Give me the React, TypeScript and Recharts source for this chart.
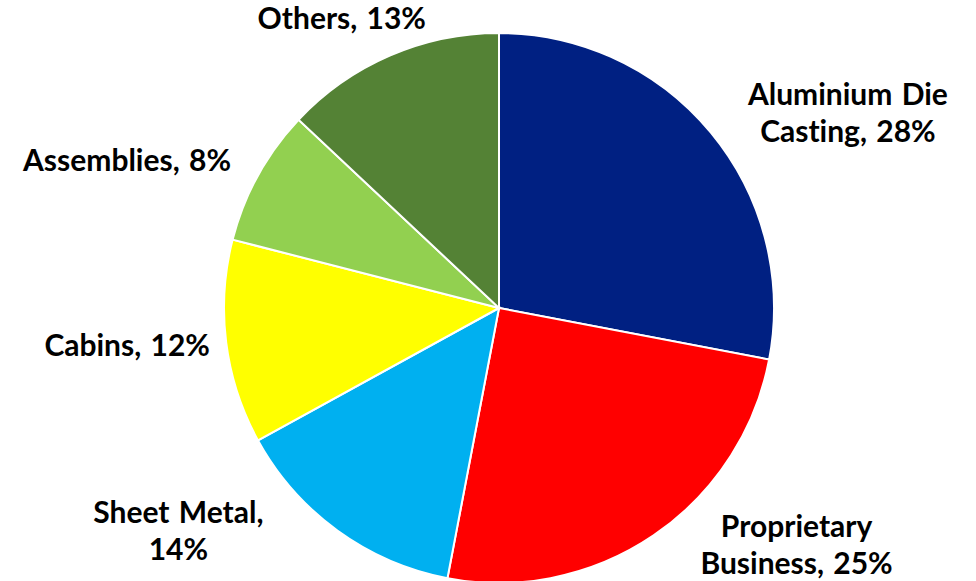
import { PieChart, Pie, Cell } from "recharts";

// segment names, share in percent, fill colours
const segments = [
  "Aluminium Die Casting",
  "Proprietary Business",
  "Sheet Metal",
  "Cabins",
  "Assemblies",
  "Others",
];
const shares = [28, 25, 14, 12, 8, 13];
const colors = ["#002082", "#FF0000", "#00B0F0", "#FFFF00", "#92D050", "#548235"];

// how each data label wraps (as in the original chart)
const labelLines = [
  ["Aluminium Die", "Casting, 28%"],
  ["Proprietary", "Business, 25%"],
  ["Sheet Metal,", "14%"],
  ["Cabins, 12%"],
  ["Assemblies, 8%"],
  ["Others, 13%"],
];

// label nudges from the point on the rim at each slice's mid angle
const labelNudge = [
  [137, -19],
  [143, 10],
  [-159, 1],
  [-99, 4],
  [-131, -15],
  [-48, -37],
];

const data = segments.map((name, i) => ({ name, value: shares[i] }));

const RAD = Math.PI / 180;
const LINE_H = 37;
const CAP_HALF = 10;

function renderLabel(props: any) {
  const { cx, cy, midAngle, outerRadius, index } = props;
  const x0 = cx + outerRadius * Math.cos(-midAngle * RAD);
  const y0 = cy + outerRadius * Math.sin(-midAngle * RAD);
  const [dx, dy] = labelNudge[index];
  const x = x0 + dx;
  const lines = labelLines[index];
  const firstBaseline = y0 + dy + CAP_HALF - ((lines.length - 1) * LINE_H) / 2;
  return (
    <text
      key={`lbl-${index}`}
      x={x}
      y={firstBaseline}
      textAnchor="middle"
      fill="#000"
      fontFamily="Lato, 'Liberation Sans', sans-serif"
      fontWeight={700}
      fontSize={30}
      style={{ fontVariantLigatures: "none", wordSpacing: 2 }}
    >
      {lines.map((t, j) => (
        <tspan key={j} x={x} dy={j === 0 ? 0 : LINE_H}>
          {t}
        </tspan>
      ))}
    </text>
  );
}

export default function App() {
  return (
    <div style={{ width: 976, height: 581, background: "#fff" }}>
      <style>{`body{margin:0}`}</style>
      <PieChart width={976} height={581} margin={{ top: 0, right: 0, bottom: 0, left: 0 }}>
        <Pie
          data={data}
          dataKey="value"
          nameKey="name"
          cx={499}
          cy={308}
          outerRadius={275}
          startAngle={90}
          endAngle={-270}
          stroke="#fff"
          strokeWidth={2}
          label={renderLabel}
          labelLine={false}
          isAnimationActive={false}
        >
          {data.map((d, i) => (
            <Cell key={d.name} fill={colors[i]} />
          ))}
        </Pie>
      </PieChart>
    </div>
  );
}
